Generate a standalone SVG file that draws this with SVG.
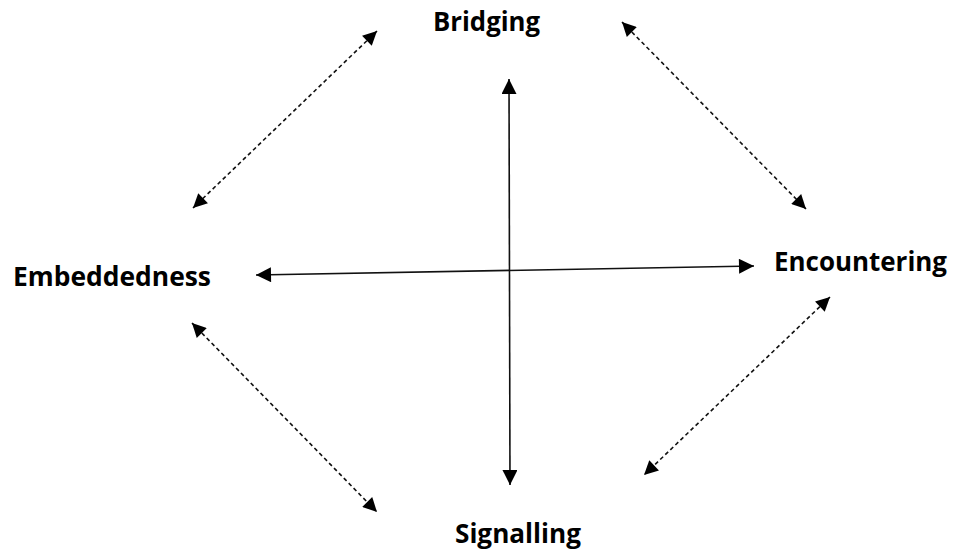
<svg xmlns="http://www.w3.org/2000/svg" width="956" height="556" viewBox="0 0 956 556">
  <style>
    .label { font-family: "Open Sans", "Liberation Sans", sans-serif; font-weight: bold; font-size: 26px; fill: #000; }
    .solid { stroke: #111; stroke-width: 1.6; fill: none; }
    .dashed { stroke: #111; stroke-width: 1.6; fill: none; stroke-dasharray: 4 3; }
  </style>
  <defs>
    <marker id="arrow" viewBox="0 0 10 10" refX="10" refY="5" markerUnits="userSpaceOnUse" markerWidth="16" markerHeight="15" orient="auto-start-reverse">
      <path d="M0,0 L10,5 L0,10 z" fill="#000"/>
    </marker>
    <marker id="arrowD" viewBox="0 0 10 10" refX="10" refY="5" markerUnits="userSpaceOnUse" markerWidth="15" markerHeight="14" orient="auto-start-reverse">
      <path d="M0,0 L10,5 L0,10 z" fill="#000"/>
    </marker>
  </defs>
  <rect width="956" height="556" fill="#fff"/>
  <g id="connectors">
    <line class="solid" x1="256" y1="275" x2="754" y2="266" marker-start="url(#arrow)" marker-end="url(#arrow)"/>
    <line class="solid" x1="509" y1="79" x2="510" y2="485" marker-start="url(#arrow)" marker-end="url(#arrow)"/>
    <line class="dashed" x1="377" y1="31" x2="193" y2="208" marker-start="url(#arrowD)" marker-end="url(#arrowD)"/>
    <line class="dashed" x1="622" y1="22" x2="806" y2="209" marker-start="url(#arrowD)" marker-end="url(#arrowD)"/>
    <line class="dashed" x1="192" y1="323" x2="377" y2="512" marker-start="url(#arrowD)" marker-end="url(#arrowD)"/>
    <line class="dashed" x1="830" y1="297" x2="644" y2="475" marker-start="url(#arrowD)" marker-end="url(#arrowD)"/>
  </g>
  <g id="bridging">
    <text class="label" x="433" y="31" textLength="107" lengthAdjust="spacingAndGlyphs">Bridging</text>
  </g>
  <g id="embeddedness">
    <text class="label" x="13" y="286" textLength="198" lengthAdjust="spacingAndGlyphs">Embeddedness</text>
  </g>
  <g id="encountering">
    <text class="label" x="774" y="271" textLength="173" lengthAdjust="spacingAndGlyphs">Encountering</text>
  </g>
  <g id="signalling">
    <text class="label" x="455" y="543" textLength="126" lengthAdjust="spacingAndGlyphs">Signalling</text>
  </g>
</svg>
